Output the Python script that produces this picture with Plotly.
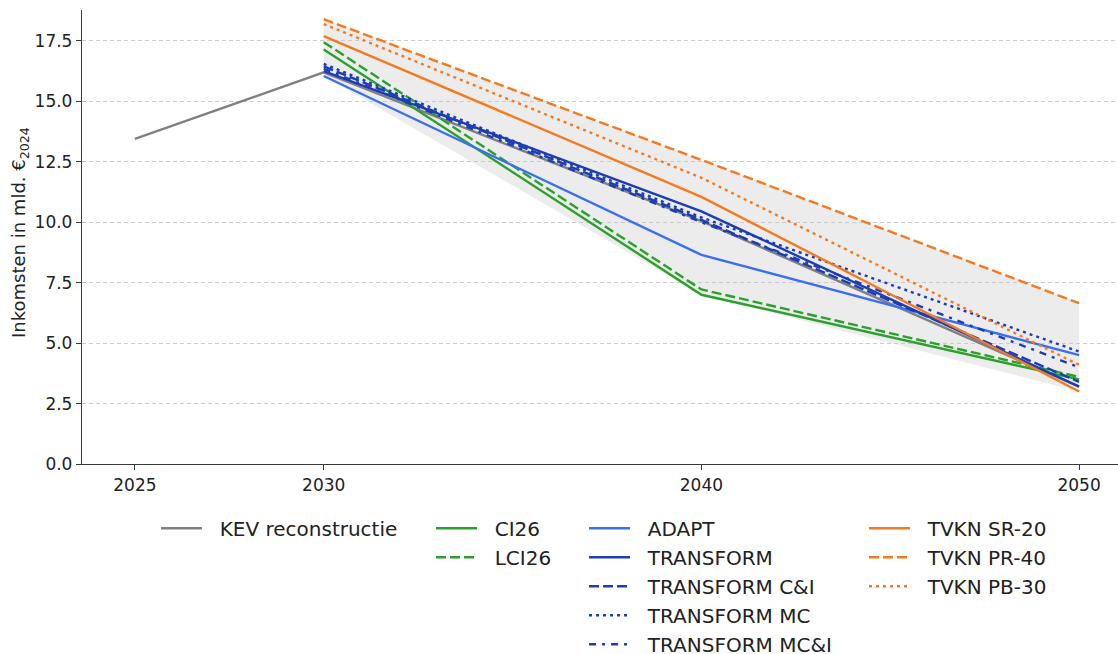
import numpy as np
import plotly.graph_objects as go

# Years
kev_years = [2025, 2030, 2040, 2050]
scen_years = [2030, 2040, 2050]

# Revenues in billion euro (2024 prices)
kev = [13.45, 16.2, 10.05, 3.2]
ci26 = [17.15, 7.0, 3.5]
lci26 = [17.45, 7.22, 3.6]
adapt = [16.05, 8.65, 4.5]
transform = [16.25, 10.45, 3.2]
transform_ci = [16.45, 10.1, 3.4]
transform_mc = [16.55, 10.2, 4.65]
transform_mci = [16.35, 10.0, 4.0]
tvkn_sr20 = [17.7, 11.05, 3.0]
tvkn_pr40 = [18.4, 12.58, 6.65]
tvkn_pb30 = [18.2, 11.84, 4.1]

y_ticks = [0, 2.5, 5, 7.5, 10, 12.5, 15, 17.5]
x_ticks = [2025, 2030, 2040, 2050]

GRAY = "#808080"
GREEN = "#2ca02c"
LBLUE = "#3b6ff0"
DBLUE = "#1c3db5"
ORANGE = "#f47a1f"
FONT = "DejaVu Sans"
PAD = "\u00a0\u00a0"  # gap between legend sample and label

scenarios = [
    # name, values, colour, dash, legend column
    ("CI26", ci26, GREEN, "solid", "legend2"),
    ("LCI26", lci26, GREEN, "10px,4px", "legend2"),
    ("ADAPT", adapt, LBLUE, "solid", "legend3"),
    ("TRANSFORM", transform, DBLUE, "solid", "legend3"),
    ("TRANSFORM C&I", transform_ci, DBLUE, "10px,4px", "legend3"),
    ("TRANSFORM MC", transform_mc, DBLUE, "3px,4px", "legend3"),
    ("TRANSFORM MC&I", transform_mci, DBLUE, "7px,6px,3px,6px", "legend3"),
    ("TVKN SR-20", tvkn_sr20, ORANGE, "solid", "legend4"),
    ("TVKN PR-40", tvkn_pr40, ORANGE, "10px,4px", "legend4"),
    ("TVKN PB-30", tvkn_pb30, ORANGE, "3px,4px", "legend4"),
]

all_vals = np.array([s[1] for s in scenarios])
band_lo = all_vals.min(axis=0)
band_hi = all_vals.max(axis=0)

fig = go.Figure()

# Scenario range band (min/max over all scenarios)
fig.add_trace(go.Scatter(x=scen_years, y=band_lo, mode="lines",
                         line=dict(width=0), showlegend=False, hoverinfo="skip"))
fig.add_trace(go.Scatter(x=scen_years, y=band_hi, mode="lines",
                         line=dict(width=0), fill="tonexty",
                         fillcolor="rgba(200,200,200,0.35)",
                         showlegend=False, hoverinfo="skip"))

fig.add_trace(go.Scatter(x=kev_years, y=kev, mode="lines", name=PAD + "KEV reconstructie",
                         line=dict(color=GRAY, width=2.4), legend="legend"))

for name, vals, color, dash, lg in scenarios:
    fig.add_trace(go.Scatter(x=scen_years, y=vals, mode="lines", name=PAD + name,
                             line=dict(color=color, width=2.4, dash=dash),
                             legend=lg))

axis_color = "#3a3a3a"
fig.update_xaxes(range=[2023.6, 2051.03], tickvals=x_ticks, ticks="outside",
                 ticklen=5, tickcolor=axis_color, showline=True, linecolor=axis_color,
                 linewidth=1.3, showgrid=False, zeroline=False,
                 tickfont=dict(family=FONT, size=17, color="#222"))
fig.update_yaxes(range=[0, 18.78], tickvals=y_ticks, tickformat=".1f", ticks="outside",
                 ticklen=5, tickcolor=axis_color, showline=True, linecolor=axis_color,
                 linewidth=1.3, showgrid=True, gridcolor="#cccccc", griddash="4px,3px",
                 gridwidth=1, zeroline=False,
                 tickfont=dict(family=FONT, size=17, color="#222"))

# Vertical axis title
fig.add_annotation(text="Inkomsten in mld. €<sub>2024</sub>", textangle=-90,
                   xref="paper", yref="paper", x=-0.0598, y=0.509,
                   xanchor="center", yanchor="middle", showarrow=False,
                   font=dict(family=FONT, size=18, color="#222"))

leg_common = dict(orientation="v", xanchor="left", yanchor="top", y=0.222,
                  xref="container", yref="container",
                  bgcolor="rgba(0,0,0,0)", font=dict(family=FONT, size=20, color="#222"),
                  itemwidth=41, tracegroupgap=0)

fig.update_layout(
    width=1118, height=654,
    margin=dict(l=82, r=0, t=10, b=190, autoexpand=False),
    plot_bgcolor="white", paper_bgcolor="white",
    font=dict(family=FONT),
    legend=dict(x=0.1395, **leg_common),
    legend2=dict(x=0.3855, **leg_common),
    legend3=dict(x=0.5224, **leg_common),
    legend4=dict(x=0.7728, **leg_common),
)

fig.write_html("out.html")
